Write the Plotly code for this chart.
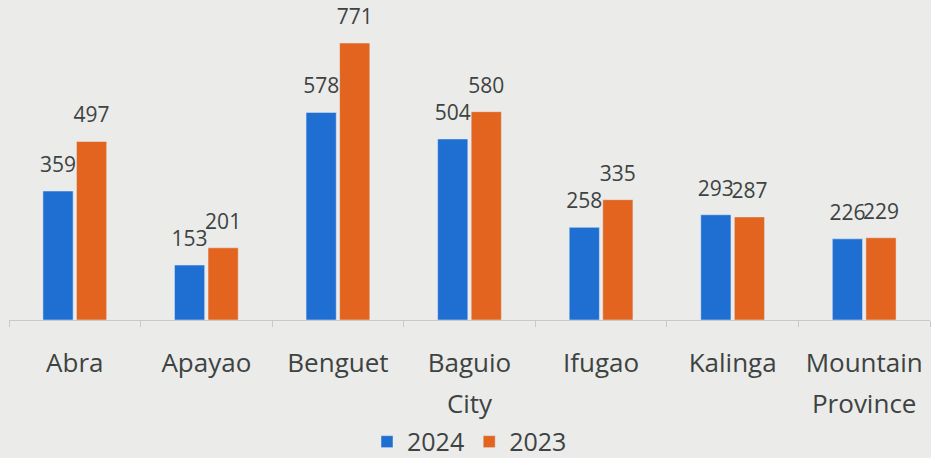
import plotly.graph_objects as go

provinces = ["Abra", "Apayao", "Benguet", "Baguio<br>City", "Ifugao", "Kalinga", "Mountain<br>Province"]
values_2024 = [359, 153, 578, 504, 258, 293, 226]
values_2023 = [497, 201, 771, 580, 335, 287, 229]

BLUE = "#1f6fd2"
ORANGE = "#e2641e"
BG = "#ebebe9"
TEXT = "#3d4342"
FONT = "Open Sans"

# number in a 21px span, then a blank small line underneath to lift the label off the bar
LABEL = "<span style='font-size:21px'>%{y}</span><br>&nbsp;"

# tick font is set large (31px) only to widen the line spacing; the words are drawn at 26px
tick_text = [
    "<br>".join(f"<span style='font-size:26px'>{part}</span>" for part in p.split("<br>"))
    for p in provinces
]

fig = go.Figure()
for name, vals, color in [("2024", values_2024, BLUE), ("2023", values_2023, ORANGE)]:
    fig.add_bar(
        name=name,
        x=provinces,
        y=vals,
        marker_color=color,
        texttemplate=LABEL,
        textposition="outside",
        constraintext="none",
        cliponaxis=False,
        textfont=dict(family=FONT, size=10, color=TEXT),
    )

fig.update_layout(
    width=931,
    height=458,
    margin=dict(l=9, r=1, t=5, b=138, autoexpand=False),
    paper_bgcolor=BG,
    plot_bgcolor=BG,
    barmode="group",
    bargap=0.49,
    bargroupgap=0.1,
    font=dict(family=FONT, color=TEXT),
    legend=dict(
        orientation="h",
        x=0.5,
        xanchor="center",
        y=-0.387,
        yanchor="middle",
        font=dict(size=25, color=TEXT),
        itemwidth=30,
    ),
)
fig.update_xaxes(
    showline=True,
    linecolor="#c9cac8",
    linewidth=1,
    ticks="outside",
    tickson="boundaries",
    ticklen=6,
    tickcolor="#c9cac8",
    tickvals=provinces,
    ticktext=tick_text,
    tickfont=dict(size=31, color=TEXT),
    ticklabelstandoff=14,
)
fig.update_yaxes(
    range=[0, 877],
    showgrid=False,
    zeroline=False,
    showticklabels=False,
)

fig.write_html(
    "out.html",
    config={"displayModeBar": False},
    post_script="document.body.style.margin='0';",
)
